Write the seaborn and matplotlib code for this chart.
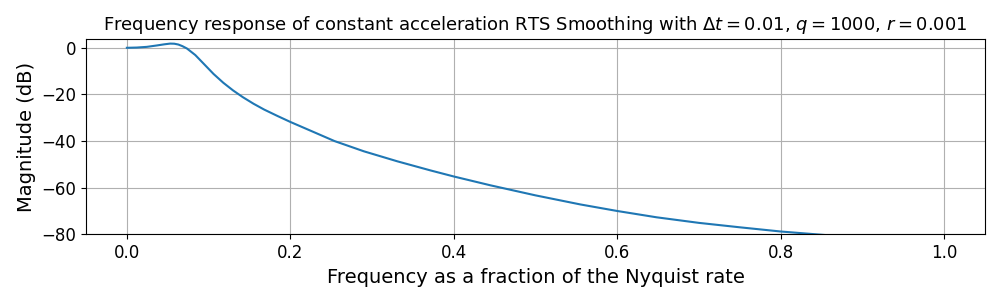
import matplotlib
matplotlib.use('Agg')
import matplotlib.pyplot as plt
import pandas as pd
import seaborn as sns

# Valores (fracción de Nyquist, magnitud en dB)
freq = [0.0, 0.012, 0.0245, 0.0367, 0.046, 0.053, 0.058, 0.063, 0.068, 0.0735,
        0.0837, 0.0939, 0.106, 0.118, 0.13, 0.142, 0.155, 0.168, 0.184, 0.2,
        0.229, 0.254, 0.29, 0.331, 0.3715, 0.4, 0.445, 0.5, 0.555, 0.6,
        0.648, 0.7, 0.75, 0.8, 0.861, 0.9, 1.0]
mag_db = [0.0, 0.1, 0.4, 1.0, 1.5, 1.8, 1.75, 1.4, 0.7, -0.3,
          -3.1, -6.8, -11.2, -15.0, -18.3, -21.2, -24.0, -26.5, -29.2, -31.8,
          -36.2, -40.0, -44.4, -48.7, -52.6, -55.2, -59.0, -63.3, -67.2, -70.0,
          -72.7, -75.1, -77.0, -78.8, -80.5, -81.5, -84.0]

df = pd.DataFrame({'freq': freq, 'mag': mag_db})

fig, ax = plt.subplots(figsize=(10, 3), dpi=100)
sns.lineplot(data=df, x='freq', y='mag', ax=ax, color='#1f77b4', linewidth=1.5)

ax.set_ylim(-80, 3.9)
ax.set_xlim(-0.05, 1.05)
ax.grid(True)
ax.set_title(r'Frequency response of constant acceleration RTS Smoothing with '
             r'$\Delta t = 0.01$, $q = 1000$, $r = 0.001$', fontsize=13)
ax.set_xlabel('Frequency as a fraction of the Nyquist rate', fontsize=14)
ax.set_ylabel('Magnitude (dB)', fontsize=14)
ax.tick_params(labelsize=12)

plt.subplots_adjust(left=0.086, right=0.985, top=0.871, bottom=0.219)
plt.savefig('out.png')
